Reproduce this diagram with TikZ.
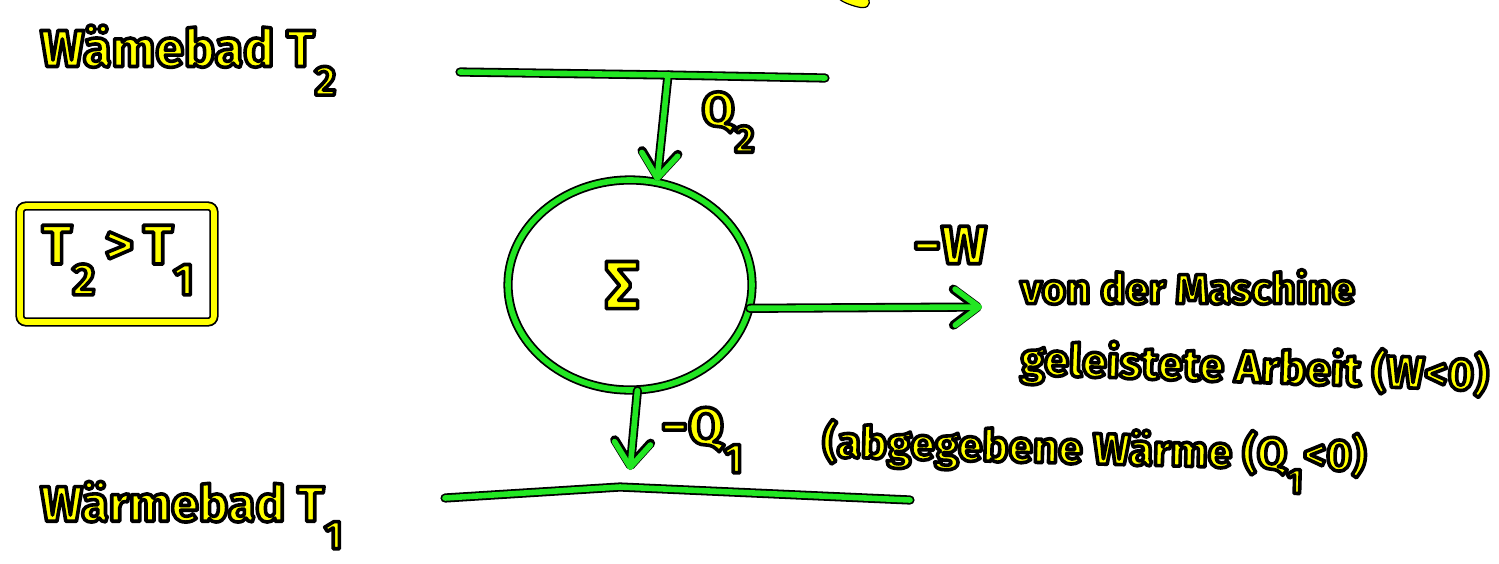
\documentclass[tikz,border=0pt]{standalone}
\usepackage{fontspec}
\setmainfont{Fira Sans}
\usetikzlibrary{arrows.meta,shapes.geometric}
\definecolor{grn}{RGB}{34,230,34}
\definecolor{ylw}{RGB}{255,255,0}
\newcommand{\yt}[1]{\special{pdf:literal direct 2 Tr 1.8 w 1 j 0 0 0 RG}#1\special{pdf:literal direct 0 Tr}}
\newcommand{\fsz}[1]{\fontsize{#1}{#1}\selectfont}
\newcommand{\lowsub}[1]{\raisebox{-0.55em}{\fontsize{0.8em}{0.8em}\selectfont #1}}
\begin{document}
\begin{tikzpicture}[x=0.5pt,y=-0.5pt,
  gout/.style={draw=black,line width=4.6pt,line cap=round,line join=round},
  gin/.style={draw=grn,line width=2.8pt,line cap=round,line join=round},
  gtip/.style={-{Straight Barb[round,length=12pt,width=18pt]}},
  lbl/.style={text=ylw,font=\bfseries,inner sep=0pt},
  ybox/.style={rectangle,draw=black,line width=0.9pt,double=ylw,double distance=2.8pt,rounded corners=3pt},
  gsys/.style={ellipse,draw=black,line width=0.9pt,double=grn,double distance=2.8pt,inner sep=0pt}
]
\useasboundingbox (0,0) rectangle (1499,563);

% partial blob at top edge
\path[fill=ylw,draw=black,line width=0.6pt] (838,-2) -- (868,-2) .. controls (872,6) and (866,9) .. (858,7) .. controls (850,5) and (842,2) .. (838,-2) -- cycle;

% left labels
\node[lbl,anchor=west] (bad2) at (40,60) {\fsz{26pt}\yt{Wämebad T\lowsub{2}}};
\node[ybox,minimum width=97pt,minimum height=58pt] (cmp) at (117,264) {};
\node[lbl] (cmpt) at (118,260) {\fsz{28pt}\yt{T\lowsub{2}\,>\,T\lowsub{1}}};
\node[lbl,anchor=west] (bad1) at (40,515) {\fsz{25pt}\yt{Wärmebad T\lowsub{1}}};

% system
\node[gsys,minimum width=122pt,minimum height=105pt] (sys) at (630,285) {};
\node[lbl] (sig) at (622,285) {\fsz{34pt}\yt{Σ}};

% reservoirs and flows
\coordinate (t1) at (460,72);
\coordinate (tq) at (668,75);
\coordinate (t2) at (825,78);
\coordinate (q2e) at (657,181);
\coordinate (b1) at (445,498);
\coordinate (bm) at (620,487);
\coordinate (b2) at (910,500);
\coordinate (q1e) at (630,470);
\coordinate (we) at (982,307);

\draw[gout] (t1) -- (tq) -- (t2);
\draw[gout,gtip] (tq) -- (q2e);
\draw[gout] (b1) -- (bm) -- (b2);
\draw[gout,gtip] (sys.-86) -- (q1e);
\draw[gout,gtip] (sys.-11) -- (we);

\draw[gin] (t1) -- (tq) -- (t2);
\draw[gin,gtip] (tq) -- (q2e);
\draw[gin] (b1) -- (bm) -- (b2);
\draw[gin,gtip] (sys.-86) -- (q1e);
\draw[gin,gtip] (sys.-11) -- (we);

% flow labels
\node[lbl] (lq2) at (728,122) {\fsz{24pt}\yt{Q\lowsub{2}}};
\node[lbl] (lw) at (950,245) {\fsz{27pt}\yt{−W}};
\node[lbl] (lq1) at (702,440) {\fsz{26pt}\yt{−Q\lowsub{1}}};

% explanations
\node[lbl,anchor=west] (r1) at (1020,287) {\fsz{21pt}\yt{von der Maschine}};
\node[lbl,anchor=west,rotate=-2] (r2) at (1020,360) {\fsz{22.5pt}\yt{geleistete Arbeit (W<0)}};
\node[lbl,anchor=west,rotate=-1.5] (r3) at (822,450) {\fsz{22pt}\yt{(abgegebene Wärme (Q\lowsub{1}<0)}};
\end{tikzpicture}
\end{document}
